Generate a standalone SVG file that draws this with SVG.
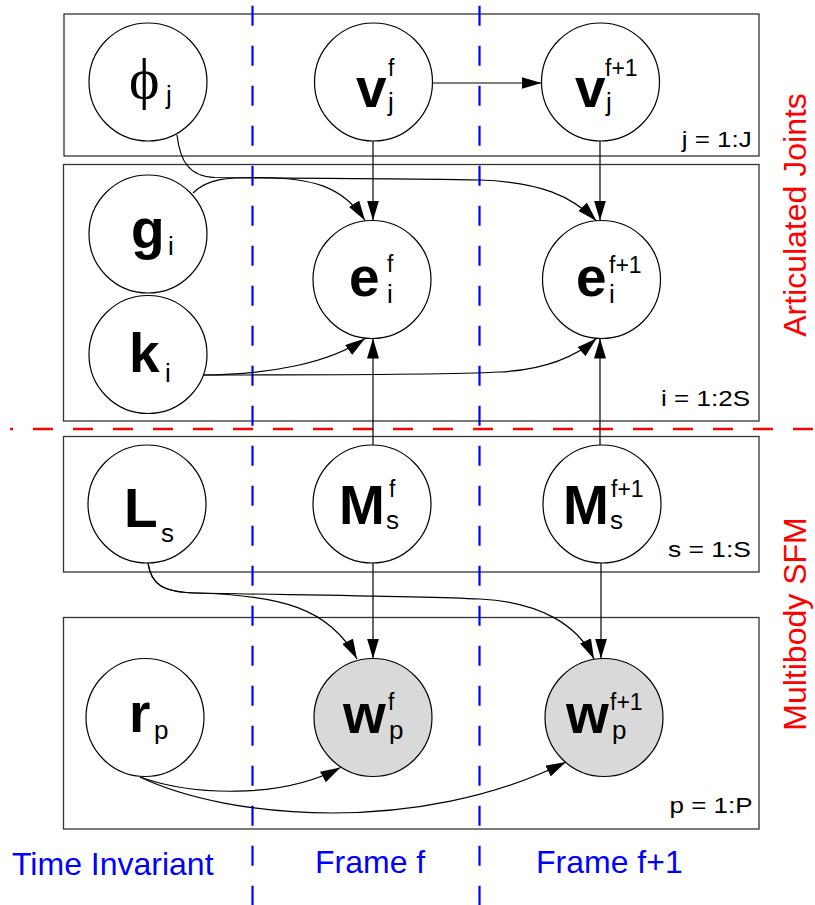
<svg xmlns="http://www.w3.org/2000/svg" width="815" height="905" viewBox="0 0 815 905">
<defs>
<style>
.plate{fill:none;stroke:#333;stroke-width:1.3}
.node{fill:#fff;stroke:#000;stroke-width:1.2}
.obs{fill:#d9d9d9;stroke:#000;stroke-width:1.2}
.big{font-family:"Liberation Sans",Arial,sans-serif;font-weight:bold;font-size:55px;fill:#000}
.sup{font-family:"Liberation Sans",Arial,sans-serif;font-size:23px;fill:#000}
.sub{font-family:"Liberation Sans",Arial,sans-serif;font-size:26px;fill:#000}
.plab{font-family:"Liberation Sans",Arial,sans-serif;font-size:22px;fill:#000}
.edge{fill:none;stroke:#000;stroke-width:1.2;marker-end:url(#ah)}
.blue{font-family:"Liberation Sans",Arial,sans-serif;font-size:32px;fill:#0000ff}
.red{font-family:"Liberation Sans",Arial,sans-serif;font-size:32px;fill:#ff0000}
</style>
<marker id="ah" markerUnits="userSpaceOnUse" markerWidth="20" markerHeight="12" refX="20" refY="6" orient="auto">
<path d="M0,0 L20,6 L0,12 z" fill="#000"/>
</marker>
</defs>
<rect width="815" height="905" fill="#fff"/>

<g id="plates">
<rect class="plate" x="64" y="14" width="695" height="142"/>
<rect class="plate" x="63.5" y="164.5" width="695.5" height="256.5"/>
<rect class="plate" x="63.5" y="436.5" width="695.5" height="135.5"/>
<rect class="plate" x="63.5" y="617.5" width="695.5" height="211.5"/>
<text class="plab" x="681.7" y="146.7" textLength="70" lengthAdjust="spacingAndGlyphs">j = 1:J</text>
<text class="plab" x="661" y="406" textLength="89" lengthAdjust="spacingAndGlyphs">i = 1:2S</text>
<text class="plab" x="668" y="557" textLength="83" lengthAdjust="spacingAndGlyphs">s = 1:S</text>
<text class="plab" x="669.5" y="813" textLength="83" lengthAdjust="spacingAndGlyphs">p = 1:P</text>
</g>

<g id="dividers">
<line x1="252.5" y1="5.7" x2="252.5" y2="905" stroke="#0000ff" stroke-width="2.2" stroke-dasharray="20 20"/>
<line x1="479.5" y1="5.7" x2="479.5" y2="905" stroke="#0000ff" stroke-width="2.2" stroke-dasharray="20 20"/>
<line x1="10" y1="429" x2="815" y2="429" stroke="#ff0000" stroke-width="2.5" stroke-dasharray="20 20" stroke-dashoffset="17"/>
</g>

<g id="connectors">
<line class="edge" x1="432" y1="83" x2="541.5" y2="83"/>
<line class="edge" x1="373" y1="141" x2="373" y2="220.5"/>
<line class="edge" x1="600" y1="141" x2="600" y2="220.5"/>
<path class="edge" d="M177,135 C180,160 188,176.5 215,177.5 C300,178.5 420,178.5 480,180 C540,182 572,196 596.5,221"/>
<path class="edge" d="M193,193 C208,178 228,177.5 260,177.5 C310,178 342,185 365,220.5"/>
<path class="edge" d="M203,375 C270,374.5 330,363 365,338.5"/>
<path class="edge" d="M203,375 C350,375 460,374 500,372 C540,370 572,360 596.5,338.5"/>
<line class="edge" x1="373" y1="445" x2="373" y2="338.5"/>
<line class="edge" x1="600" y1="445" x2="600" y2="338.5"/>
<line class="edge" x1="373" y1="563" x2="373" y2="658.5"/>
<line class="edge" x1="601" y1="563" x2="601" y2="658.5"/>
<path class="edge" d="M148,563 C151,584 162,592 195,593 C280,595 330,608 357,659"/>
<path class="edge" d="M148,563 C151,584 162,592 195,593 C300,595 420,596 480,599 C540,602 578,625 594,659"/>
<path class="edge" d="M140,777 C190,795 280,800 340.5,767.5"/>
<path class="edge" d="M140,777 C230,820 420,835 566,762"/>
</g>

<g id="phi_j">
<circle class="node" cx="148" cy="82" r="59"/>
<text x="129" y="98" font-family="Liberation Serif,'DejaVu Serif',serif" font-size="58" fill="#000">ϕ</text>
<text class="sub" x="166" y="104" font-size="23">j</text>
</g>
<g id="v_f">
<circle class="node" cx="373.5" cy="82" r="59"/>
<text class="big" x="356" y="107">v</text>
<text class="sup" x="388" y="76">f</text>
<text class="sub" x="388" y="111">j</text>
</g>
<g id="v_f1">
<circle class="node" cx="600.5" cy="82" r="59"/>
<text class="big" x="575" y="107">v</text>
<text class="sup" x="605" y="76">f+1</text>
<text class="sub" x="606" y="111">j</text>
</g>
<g id="g_i">
<circle class="node" cx="148" cy="234" r="59"/>
<text class="big" x="131" y="248">g</text>
<text class="sub" x="168" y="255" font-size="23">i</text>
</g>
<g id="k_i">
<circle class="node" cx="148" cy="354.5" r="59"/>
<text class="big" x="129" y="372">k</text>
<text class="sub" x="165" y="381.7" font-size="28">i</text>
</g>
<g id="e_f">
<circle class="node" cx="372" cy="279.5" r="59"/>
<text class="big" x="349" y="296">e</text>
<text class="sup" x="387" y="272">f</text>
<text class="sub" x="387" y="302.7">i</text>
</g>
<g id="e_f1">
<circle class="node" cx="601.5" cy="279.5" r="59"/>
<text class="big" x="576" y="296">e</text>
<text class="sup" x="609" y="272.7">f+1</text>
<text class="sub" x="609" y="302.7">i</text>
</g>
<g id="L_s">
<circle class="node" cx="147" cy="504" r="59"/>
<text class="big" x="124" y="526.5">L</text>
<text class="sub" x="161" y="541.5">s</text>
</g>
<g id="M_f">
<circle class="node" cx="372" cy="504" r="59"/>
<text class="big" x="339" y="524">M</text>
<text class="sup" x="389" y="496.5">f</text>
<text class="sub" x="386" y="529.3">s</text>
</g>
<g id="M_f1">
<circle class="node" cx="602" cy="504" r="59"/>
<text class="big" x="563" y="524">M</text>
<text class="sup" x="611" y="496.5">f+1</text>
<text class="sub" x="610" y="529.3">s</text>
</g>
<g id="r_p">
<circle class="node" cx="145" cy="717.5" r="59"/>
<text class="big" x="129" y="732">r</text>
<text class="sub" x="154" y="739">p</text>
</g>
<g id="w_f">
<circle class="obs" cx="373" cy="717.5" r="59"/>
<text class="big" x="343" y="733">w</text>
<text class="sup" x="388" y="710">f</text>
<text class="sub" x="389" y="739">p</text>
</g>
<g id="w_f1">
<circle class="obs" cx="604" cy="717.5" r="59"/>
<text class="big" x="566" y="733">w</text>
<text class="sup" x="610" y="710">f+1</text>
<text class="sub" x="612" y="739">p</text>
</g>

<g id="labels">
<text class="blue" x="12" y="875">Time Invariant</text>
<text class="blue" x="315" y="873">Frame f</text>
<text class="blue" x="536" y="873">Frame f+1</text>
<text class="red" x="0" y="0" text-anchor="middle" transform="translate(806,215) rotate(-90)">Articulated Joints</text>
<text class="red" x="0" y="0" text-anchor="middle" transform="translate(806,624) rotate(-90)">Multibody SFM</text>
</g>
</svg>
